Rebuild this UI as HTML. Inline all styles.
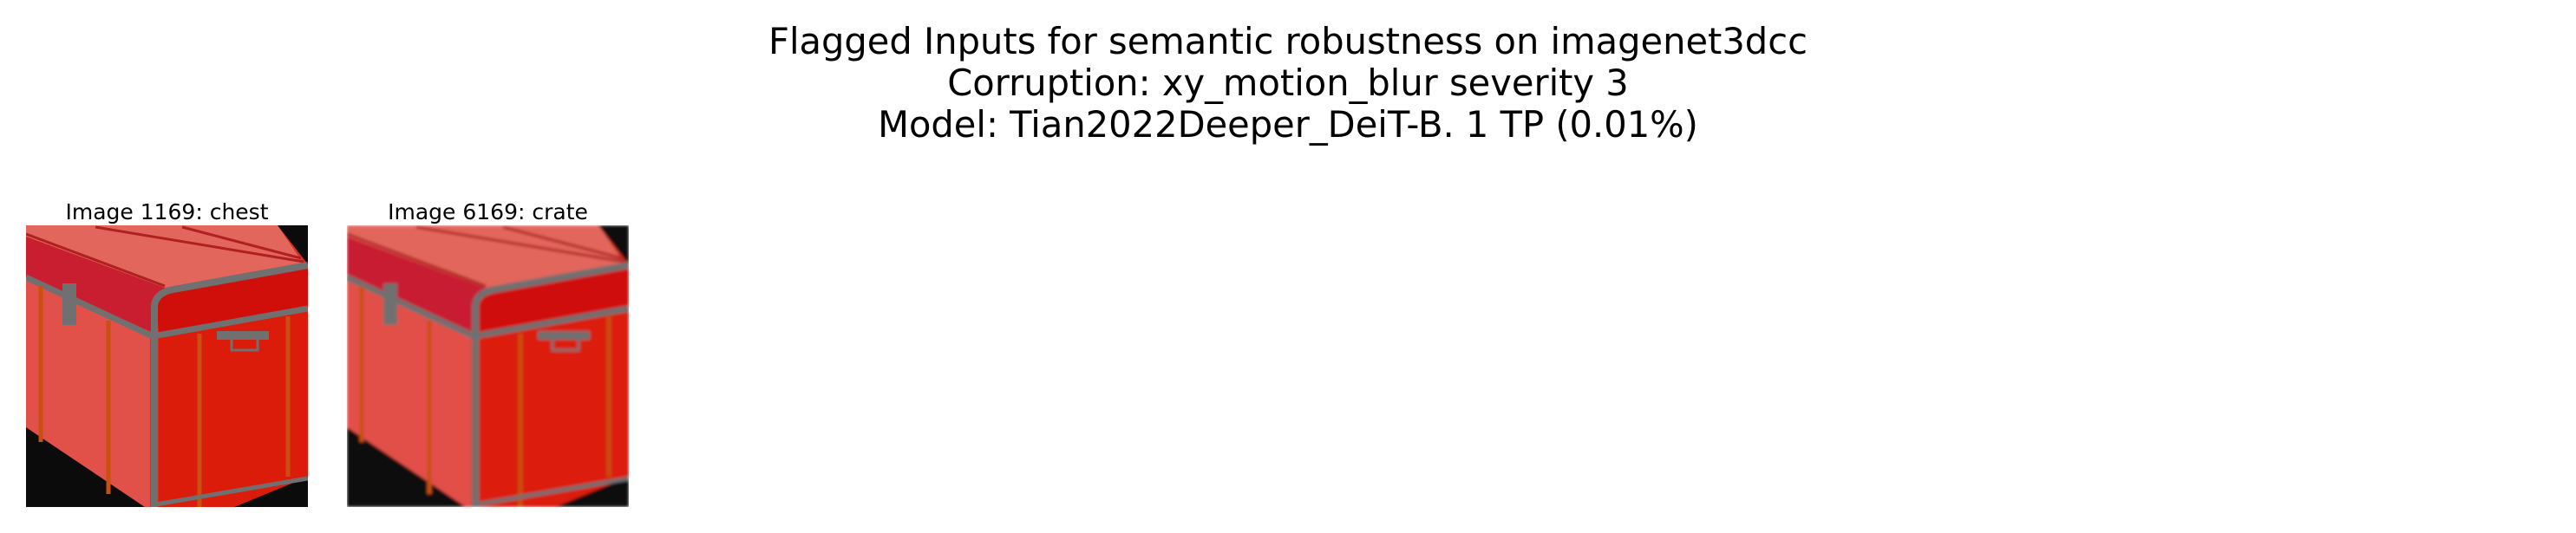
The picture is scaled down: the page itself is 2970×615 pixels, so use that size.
<!DOCTYPE html>
<html><head><meta charset="utf-8"><style>
html,body{margin:0;padding:0;background:#fff;}
body{width:2970px;height:615px;position:relative;overflow:hidden;font-family:"DejaVu Sans","Liberation Sans",sans-serif;}
.t{position:absolute;left:0;width:2970px;text-align:center;font-size:41.6px;color:#000;line-height:48px;}
.l{position:absolute;font-size:25px;text-align:center;width:325px;line-height:30px;}
svg{position:absolute;}
</style></head><body>
<div class="t" style="top:24px">Flagged Inputs for semantic robustness on imagenet3dcc</div>
<div class="t" style="top:72px">Corruption: xy_motion_blur severity 3</div>
<div class="t" style="top:120px">Model: Tian2022Deeper_DeiT-B. 1 TP (0.01%)</div>
<div class="l" style="left:30px;top:230px">Image 1169: chest</div>
<div class="l" style="left:400px;top:230px">Image 6169: crate</div>
<svg width="0" height="0"><defs>
<filter id="bl"><feGaussianBlur stdDeviation="1.6"/></filter>
<g id="chest">
<rect width="325" height="325" fill="#0b0b0b"/>
<polygon points="0,0 290,0 325,45 325,290 240,325 137,325 0,233" fill="#d83020"/>
<polygon points="0,0 290,0 317,40 325,55 160,72 0,13" fill="#e2665c"/>
<polygon points="0,13 160,72 143,122 0,60" fill="#c81e30"/>
<polygon points="150,80 325,48 325,95 153,125" fill="#d00e0a"/>
<polygon points="153,125 325,95 325,290 240,325 153,325" fill="#dc1c0a"/>
<polygon points="0,60 143,128 143,325 137,325 0,233" fill="#e2504a"/>
<path d="M80,2 L320,42 M180,2 L317,38 M0,10 L160,70" stroke="#b02020" stroke-width="3" fill="none"/>
<path d="M0,60 L146,128 L325,96" stroke="#707070" stroke-width="7" fill="none"/>
<path d="M148,325 L148,95 Q148,78 170,74 L325,46" stroke="#707070" stroke-width="8" fill="none"/>
<path d="M17,70 L17,250 M95,110 L95,310 M200,125 L200,325 M302,105 L302,290" stroke="#c85010" stroke-width="5"/>
<path d="M150,322 L325,292" stroke="#707070" stroke-width="5"/>
<rect x="220" y="122" width="60" height="10" fill="#707070"/>
<path d="M237,132 v12 h30 v-12" stroke="#707070" stroke-width="3" fill="none"/>
<rect x="42" y="67" width="16" height="48" fill="#707070"/>
</g></defs></svg>
<svg style="left:30px;top:260px" width="325" height="325"><use href="#chest"/></svg>
<svg style="left:400px;top:260px" width="325" height="325"><g filter="url(#bl)"><use href="#chest"/></g></svg>
</body></html>
